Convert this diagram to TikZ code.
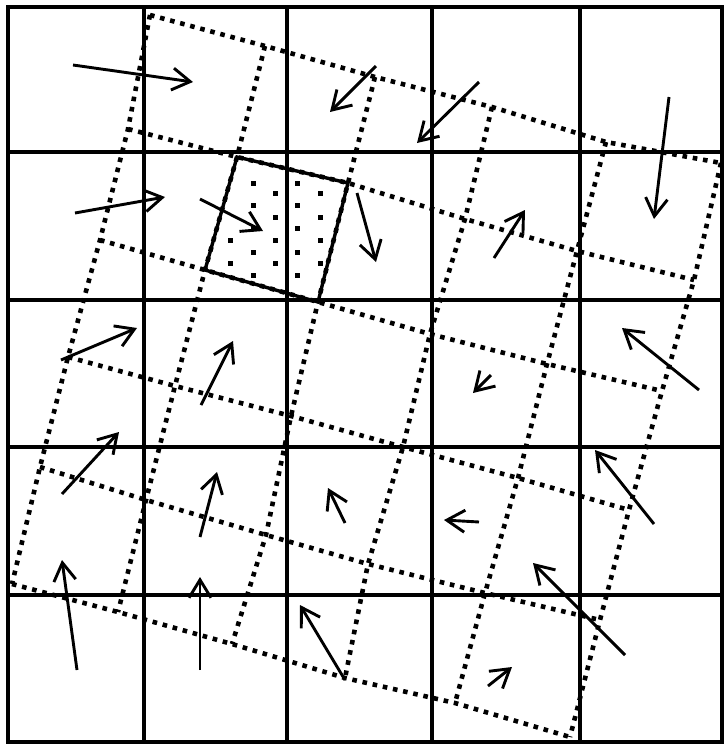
\documentclass[tikz,border=0pt]{standalone}
\usetikzlibrary{arrows.meta}
\begin{document}
\begin{tikzpicture}[x=0.5pt,y=-0.5pt,
  gridline/.style={line width=1.7pt, line cap=rect},
  dotline/.style={line width=2.3pt, dash pattern=on 2.3pt off 2.9pt},
  cellbox/.style={line width=1.7pt, line join=miter},
  vec/.style={line width=1.45pt, -{Straight Barb[length=9pt,width=11pt]}}]
\useasboundingbox (0,0) rectangle (724,745);
\fill[white] (0,0) rectangle (724,745);
% rotated (hand-drawn) lattice points
\foreach \i/\j/\x/\y in {
  0/0/150/15, 1/0/265/46, 2/0/375/77, 3/0/492/107, 4/0/606/142, 5/0/721/163,
  0/1/128/129, 1/1/237/157, 2/1/348/183, 3/1/465/219, 4/1/577/251, 5/1/694/280,
  0/2/100/240, 1/2/205/270, 2/2/318/302, 3/2/430/334, 4/2/547/364, 5/2/662/391,
  0/3/68/357, 1/3/175/386, 2/3/291/416, 3/3/403/447, 4/3/518/478, 5/3/629/510,
  0/4/40/467, 1/4/146/500, 2/4/266/535, 3/4/368/564, 4/4/485/593, 5/4/600/620,
  0/5/12/584, 1/5/118/612, 2/5/232/644, 3/5/345/678, 4/5/455/703, 5/5/570/737}
  \coordinate (p\i\j) at (\x,\y);
\foreach \j in {0,...,5}
  \draw[dotline] (p0\j) -- (p1\j) -- (p2\j) -- (p3\j) -- (p4\j) -- (p5\j);
\foreach \i in {0,...,5}
  \draw[dotline] (p\i0) -- (p\i1) -- (p\i2) -- (p\i3) -- (p\i4) -- (p\i5);
% square grid
\foreach \x in {8,144,287,432,580,722}
  \draw[gridline] (\x,7) -- (\x,742);
\foreach \y in {7,152,300,447,595,742}
  \draw[gridline] (8,\y) -- (722,\y);
% highlighted cell with dots
\draw[cellbox] (p11) -- (p21) -- (p22) -- (p12) -- cycle;
\foreach \x/\y in {230/240, 230/263,
  253/183, 253/205, 253/228, 253/252, 253/275,
  275/193, 275/217, 275/240, 275/263,
  297/183, 297/205, 297/228, 297/252, 297/275,
  320/193, 320/217, 320/240, 320/263}
  \fill (\x,\y) ++(-2.5,-2.5) rectangle ++(5,5);
% arrows
\foreach \n/\tx/\ty/\hx/\hy in {
  1/73/65/193/82, 2/376/66/330/112, 3/479/82/417/143, 4/669/97/654/219,
  5/75/213/165/197, 6/200/199/263/231, 7/357/193/376/262, 8/494/258/525/210,
  9/61/360/137/328, 10/201/405/233/341, 11/491/375/473/393, 12/699/390/622/328,
  13/62/494/119/432, 14/200/537/217/472, 15/345/523/328/488, 16/479/522/444/520,
  17/654/524/595/450, 18/77/670/62/560, 19/200/670/200/577, 20/345/680/300/605,
  21/625/655/533/563, 22/488/686/512/667}
  {\coordinate (t\n) at (\tx,\ty);
   \coordinate (h\n) at (\hx,\hy);
   \draw[vec] (t\n) -- (h\n);}
\end{tikzpicture}
\end{document}
